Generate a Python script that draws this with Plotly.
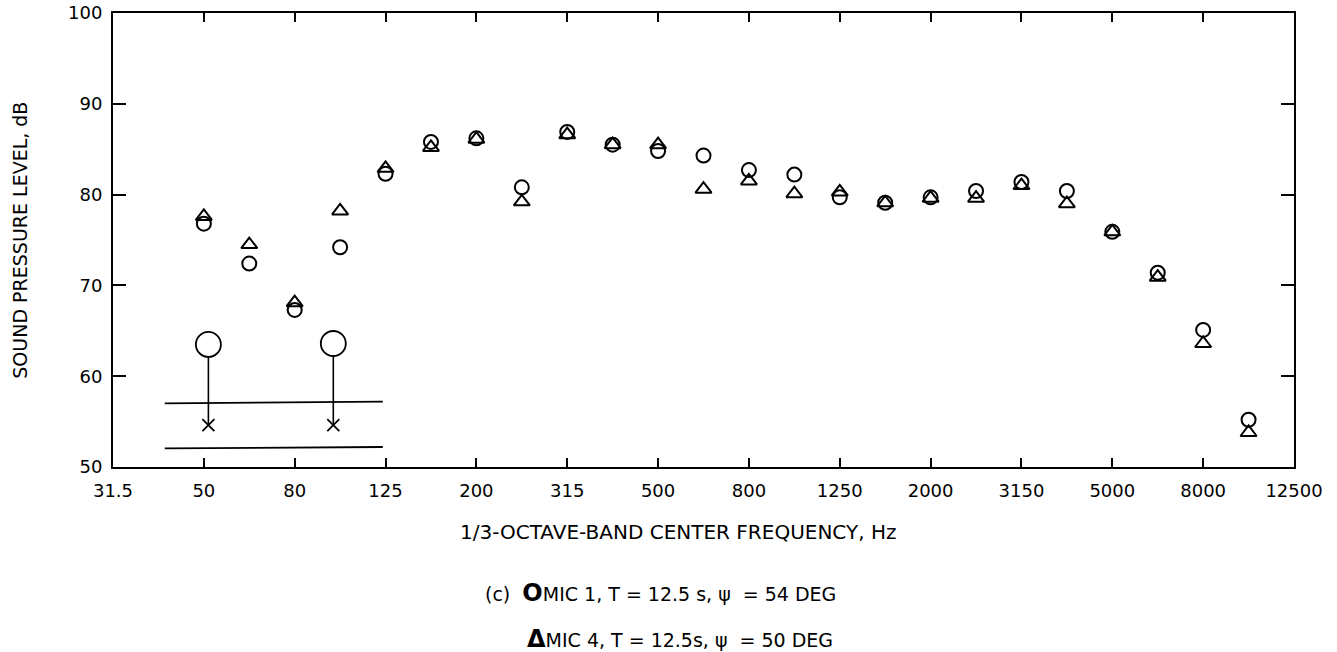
import plotly.graph_objects as go

# 1/3-octave band centre frequencies (Hz), 31.5 .. 12500
bands = ["31.5", "40", "50", "63", "80", "100", "125", "160", "200", "250", "315", "400",
         "500", "630", "800", "1000", "1250", "1600", "2000", "2500", "3150", "4000",
         "5000", "6300", "8000", "10000", "12500"]
tick_labels = ["31.5", "50", "80", "125", "200", "315", "500", "800", "1250", "2000",
               "3150", "5000", "8000", "12500"]

# measured bands
meas_bands = ["50", "63", "80", "100", "125", "160", "200", "250", "315", "400", "500",
              "630", "800", "1000", "1250", "1600", "2000", "2500", "3150", "4000",
              "5000", "6300", "8000", "10000"]
mic1 = [76.8, 72.4, 67.3, 74.2, 82.3, 85.8, 86.2, 80.8, 86.9, 85.5, 84.8,
        84.3, 82.7, 82.2, 79.7, 79.1, 79.7, 80.4, 81.4, 80.4,
        75.9, 71.4, 65.1, 55.2]
mic4 = [77.6, 74.5, 68.1, 78.2, 82.9, 85.2, 86.1, 79.2, 86.6, 85.5, 85.5,
        80.6, 81.5, 80.1, 80.3, 79.1, 79.6, 79.6, 81.0, 79.0,
        75.9, 70.9, 63.6, 53.8]

# background-noise annotation marks (band-index positions, dB)
noise_x = [2.1, 4.85]
noise_circle_db = [63.5, 63.6]
noise_cross_db = [54.6, 54.6]
limit_x = [1.14, 5.94]
limit_upper_db = [57.0, 57.2]
limit_lower_db = [52.05, 52.2]

idx = {b: i for i, b in enumerate(bands)}
x_meas = [idx[b] for b in meas_bands]
tick_vals = [idx[t] for t in tick_labels]

FONT = "DejaVu Sans"
fig = go.Figure()

# limit lines
fig.add_trace(go.Scatter(x=limit_x, y=limit_upper_db, mode="lines",
                         line=dict(color="black", width=1.8), showlegend=False))
fig.add_trace(go.Scatter(x=limit_x, y=limit_lower_db, mode="lines",
                         line=dict(color="black", width=1.8), showlegend=False))
# stems from big circles down to crosses
for xv, yc, yx in zip(noise_x, noise_circle_db, noise_cross_db):
    fig.add_trace(go.Scatter(x=[xv, xv], y=[yc, yx], mode="lines",
                             line=dict(color="black", width=1.6), showlegend=False))
fig.add_trace(go.Scatter(x=noise_x, y=noise_cross_db, mode="markers",
                         marker=dict(symbol="x-thin", size=12,
                                     line=dict(color="black", width=1.8)),
                         showlegend=False))
fig.add_trace(go.Scatter(x=noise_x, y=noise_circle_db, mode="markers",
                         marker=dict(symbol="circle", size=25, color="white",
                                     line=dict(color="black", width=1.8)),
                         showlegend=False))

# data
fig.add_trace(go.Scatter(x=x_meas, y=mic4, mode="markers", name="MIC 4",
                         marker=dict(symbol="triangle-up-open", size=14, color="black",
                                     line=dict(color="black", width=2)),
                         showlegend=False))
fig.add_trace(go.Scatter(x=x_meas, y=mic1, mode="markers", name="MIC 1",
                         marker=dict(symbol="circle-open", size=14, color="black",
                                     line=dict(color="black", width=2)),
                         showlegend=False))

fig.update_xaxes(range=[0, len(bands) - 1], tickmode="array", tickvals=tick_vals,
                 ticktext=tick_labels, ticks="inside", ticklen=9, tickwidth=1.5,
                 tickcolor="black", showline=True, linecolor="black", linewidth=2,
                 mirror="ticks", showgrid=False, zeroline=False, automargin=False,
                 tickfont=dict(family=FONT, size=18, color="black"),
                 ticklabelstandoff=6)
fig.update_yaxes(range=[50, 100], tickmode="array", tickvals=[50, 60, 70, 80, 90, 100],
                 ticks="inside", ticklen=13, tickwidth=1.5, tickcolor="black",
                 showline=True, linecolor="black", linewidth=2, mirror="ticks",
                 showgrid=False, zeroline=False, automargin=False,
                 tickfont=dict(family=FONT, size=18, color="black"),
                 ticklabelstandoff=5)

fig.add_annotation(text="SOUND PRESSURE LEVEL, dB", xref="paper", yref="paper",
                   x=-0.079, y=0.5, xanchor="center", yanchor="middle", textangle=-90,
                   showarrow=False, font=dict(family=FONT, size=19, color="black"))
fig.add_annotation(text="1/3-OCTAVE-BAND CENTER FREQUENCY, Hz", xref="paper", yref="paper",
                   x=0.478, y=-0.143, xanchor="center", yanchor="middle", showarrow=False,
                   font=dict(family=FONT, size=20, color="black"))
fig.add_annotation(text="(c)  <span style='font-size:24px'><b>O</b></span>MIC 1, T = 12.5 s, \u03c8  = 54 DEG",
                   xref="paper", yref="paper", x=0.313, y=-0.2775, xanchor="left",
                   yanchor="middle", showarrow=False,
                   font=dict(family=FONT, size=19, color="black"))
fig.add_annotation(text="<span style='font-size:24px'><b>\u0394</b></span>MIC 4, T = 12.5s, \u03c8  = 50 DEG",
                   xref="paper", yref="paper", x=0.349, y=-0.379, xanchor="left",
                   yanchor="middle", showarrow=False,
                   font=dict(family=FONT, size=19, color="black"))

fig.update_layout(width=1337, height=652, margin=dict(l=113, r=43, t=13, b=185),
                  plot_bgcolor="white", paper_bgcolor="white", showlegend=False)

fig.write_html("out.html")
